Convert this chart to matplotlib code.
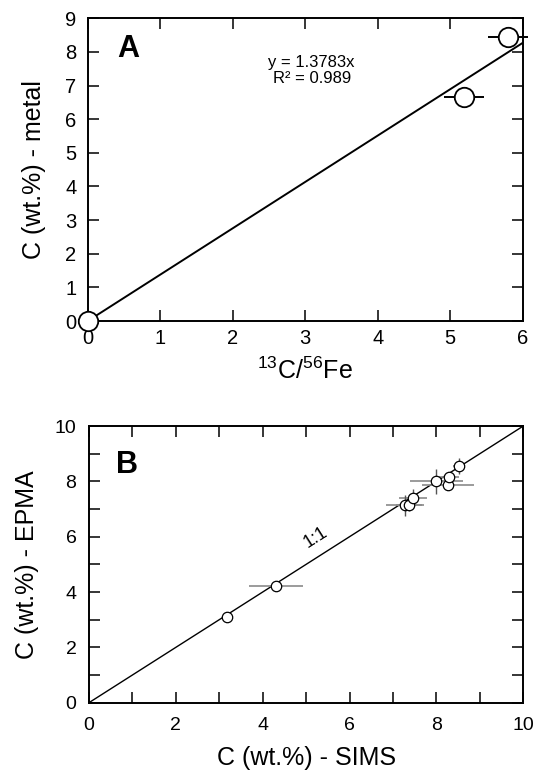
import numpy as np
import matplotlib
matplotlib.use("Agg")
import matplotlib.pyplot as plt
from matplotlib.ticker import MultipleLocator

plt.rcParams['font.family'] = ['Liberation Sans', 'DejaVu Sans']
plt.rcParams['mathtext.default'] = 'regular'

# panel A: isotope ratio vs carbon content of metal
ratio = [0.0, 5.19, 5.80]
c_metal = [0.0, 6.66, 8.43]
ratio_err = [0.0, 0.27, 0.28]
slope = 1.3783
r2 = 0.989

# panel B: SIMS vs EPMA carbon contents
sims = [3.17, 4.31, 7.27, 7.36, 7.46, 8.00, 8.26, 8.28, 8.51]
epma = [3.10, 4.22, 7.13, 7.14, 7.41, 8.01, 7.88, 8.14, 8.56]
sims_err = [0.0, 0.62, 0.44, 0.30, 0.32, 0.62, 0.60, 0.25, 0.12]
epma_err = [0.0, 0.0, 0.39, 0.20, 0.30, 0.45, 0.0, 0.15, 0.29]

fig = plt.figure(figsize=(5.43, 7.76), dpi=100)
axA = fig.add_axes([0.1615, 0.5863, 0.8011, 0.3901])
axB = fig.add_axes([0.1639, 0.0945, 0.7998, 0.3565])

def style(ax, size, xpad, ypad):
    for s in ax.spines.values():
        s.set_linewidth(1.4)
    ax.tick_params(which='both', direction='in', top=True, right=True,
                   length=8, width=1.1, labelsize=size)
    ax.tick_params(axis='x', which='both', pad=xpad)
    ax.tick_params(axis='y', which='both', pad=ypad)

# --- A ---
xf = np.array([0, 6])
axA.plot(xf, slope * xf, color='black', lw=1.4, zorder=2)
axA.errorbar(ratio, c_metal, xerr=ratio_err, fmt='o', ms=14, mfc='white',
             mec='black', mew=1.3, ecolor='black', elinewidth=1.4, capsize=0,
             clip_on=False, zorder=3)
axA.set_xlim(0, 6)
axA.set_ylim(0, 9)
axA.xaxis.set_major_locator(MultipleLocator(1))
axA.yaxis.set_major_locator(MultipleLocator(1))
style(axA, 14.5, 6, 8)
axA.text(0.56, 8.1, 'A', fontsize=22, fontweight='bold', va='center', ha='center')
axA.text(3.09, 7.45, 'y = %.4fx\nR² = %.3f' % (slope, r2), fontsize=12,
         ha='center', va='center', linespacing=1.05)
axA.set_xlabel(r'$^{13}$C/$^{56}$Fe', fontsize=18, labelpad=7)
axA.set_ylabel('C (wt.%) - metal', fontsize=18, labelpad=14)

# --- B ---
xl = np.array([0, 10])
axB.plot(xl, xl, color='black', lw=1.0, zorder=2)
axB.errorbar(sims, epma, xerr=sims_err, fmt='none', ecolor='#8a8a8a',
             elinewidth=1.2, capsize=0, zorder=3)
axB.errorbar(sims, epma, yerr=epma_err, fmt='none', ecolor='#555555',
             elinewidth=1.0, capsize=0, zorder=3)
axB.plot(sims, epma, 'o', ms=7.5, mfc='white', mec='black', mew=0.9, zorder=4)
axB.set_xlim(0, 10)
axB.set_ylim(0, 10)
axB.xaxis.set_major_locator(MultipleLocator(2))
axB.yaxis.set_major_locator(MultipleLocator(2))
axB.xaxis.set_minor_locator(MultipleLocator(1))
axB.yaxis.set_minor_locator(MultipleLocator(1))
style(axB, 14, 10, 9)
axB.text(0.87, 8.58, 'B', fontsize=22, fontweight='bold', va='center', ha='center')
axB.text(5.21, 5.98, '1:1', fontsize=13, rotation=32.5, ha='center', va='center')
axB.set_xlabel('C (wt.%) - SIMS', fontsize=18, labelpad=9)
axB.set_ylabel('C (wt.%) - EPMA', fontsize=18, labelpad=11)

fig.savefig('out.png', dpi=100)
